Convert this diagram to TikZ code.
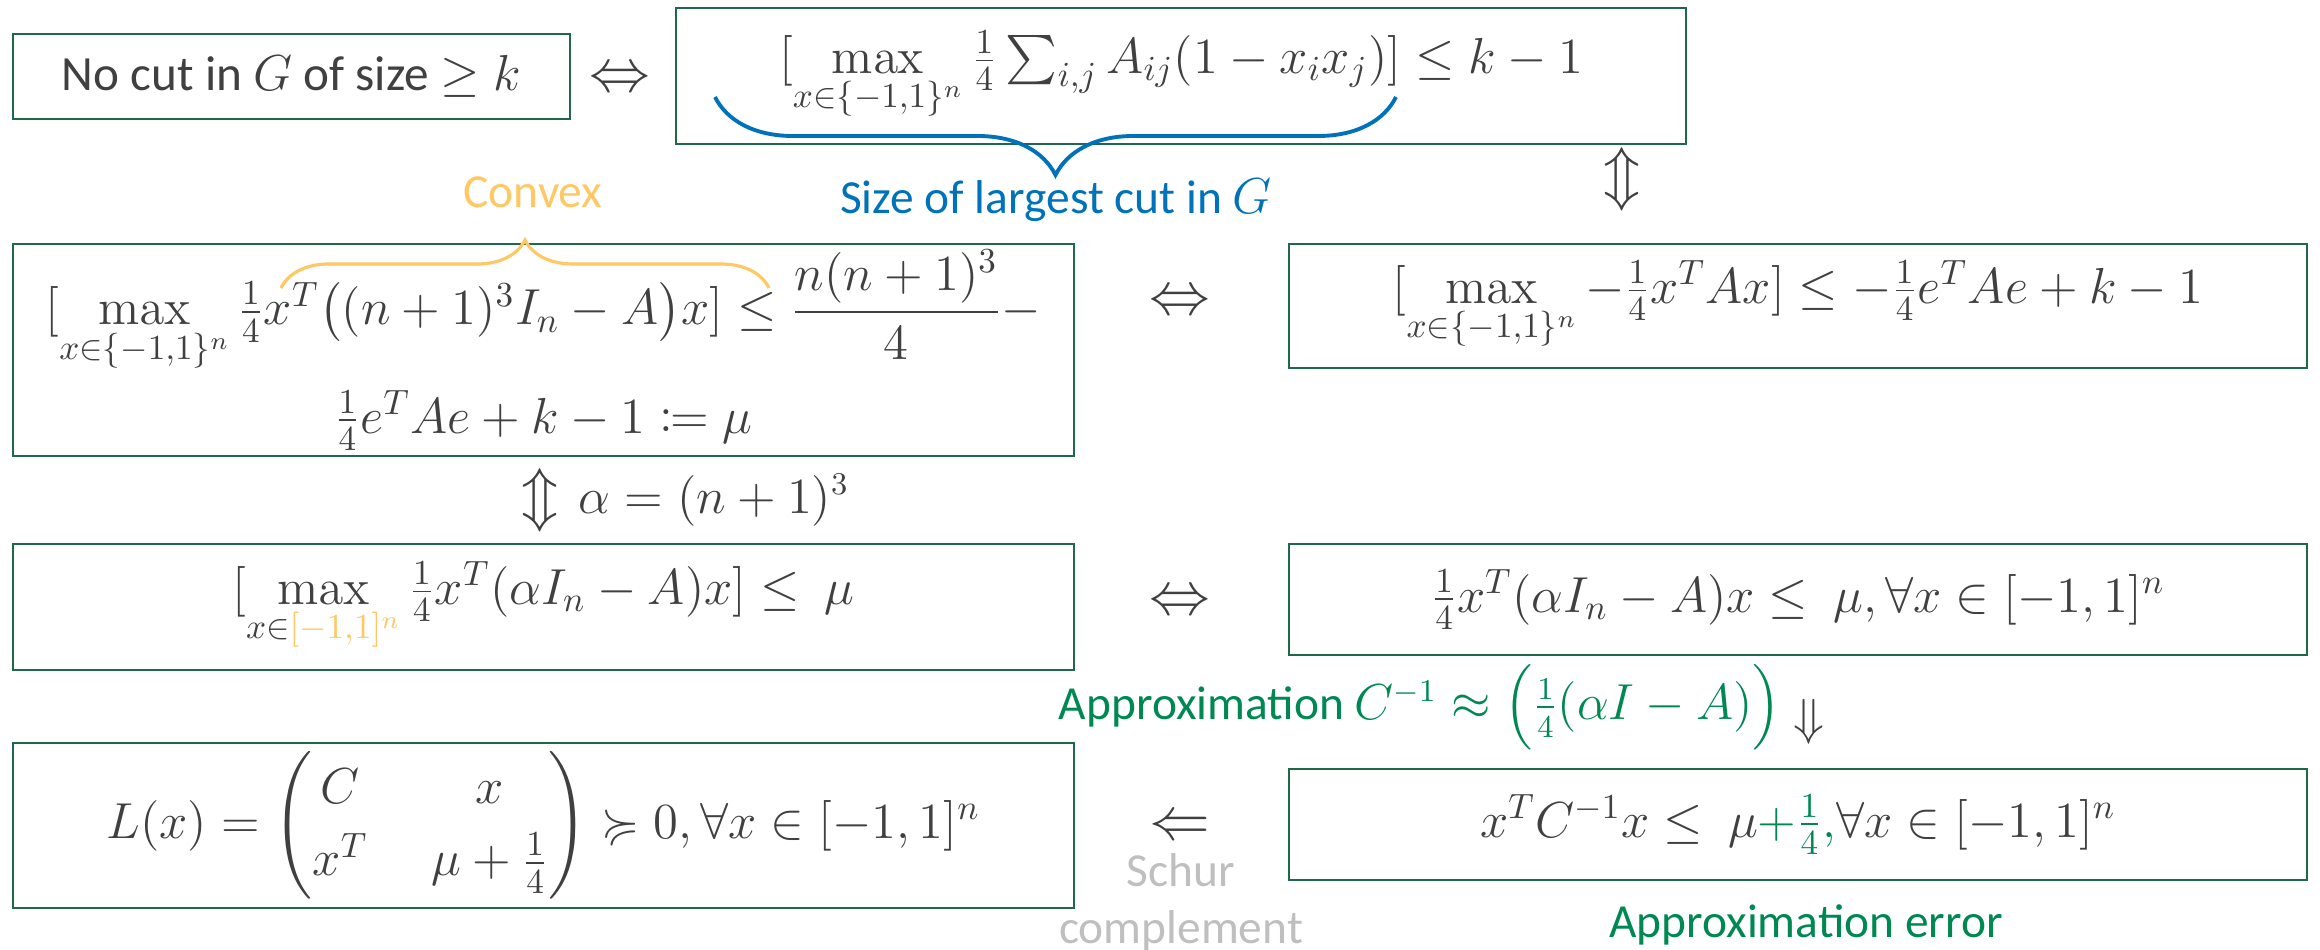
\documentclass[tikz,border=0pt]{standalone}
\usepackage{amsmath,amssymb,mathtools}
\usepackage[no-math]{fontspec}
\setmainfont{Carlito}
\usetikzlibrary{positioning,decorations.pathreplacing}
\definecolor{boxline}{RGB}{31,104,74}
\definecolor{ink}{RGB}{64,64,64}
\definecolor{cutblue}{RGB}{0,114,188}
\definecolor{convex}{RGB}{255,200,100}
\definecolor{approx}{RGB}{0,136,82}
\definecolor{note}{RGB}{191,191,191}
\tikzset{
  eq/.style={draw=boxline,line width=0.8pt,text=ink,inner sep=0pt,align=center,
    font=\fontsize{14}{17}\selectfont},
  left col/.style={eq,minimum width=10.61cm},
  right col/.style={eq,minimum width=10.18cm},
  rel/.style={text=ink,inner sep=0pt,font=\fontsize{18}{22}\selectfont},
  tag/.style={inner sep=0pt,align=center,font=\fontsize{13.5}{16.2}\selectfont},
  bracebow/.style={decorate,decoration={brace,amplitude=#1},line width=1.1pt},
}

\begin{document}
\begin{tikzpicture}
  \useasboundingbox (0,0) rectangle (23.2,-9.5);
  % top row
  \node[eq,minimum width=5.57cm,minimum height=0.85cm] (nocut) at (2.915,-0.765)
    {No cut in $G$ of size $\geq k$};
  \node[eq,minimum width=10.10cm,minimum height=1.36cm] (maxcut) at (11.81,-0.76)
    {$[\max\limits_{x\in\{-1,1\}^n}\frac{1}{4}\sum_{i,j}A_{ij}(1-x_ix_j)]\leq k-1$};
  % second row
  \node[left col,minimum height=2.12cm] (shifted) at (5.435,-3.50)
    {$[\max\limits_{x\in\{-1,1\}^n}\frac{1}{4}x^T\bigl((n+1)^3I_n-A\bigr)x]\leq\dfrac{n(n+1)^3}{4}-$\\[4pt]
     $\frac{1}{4}e^TAe+k-1\coloneqq\mu$};
  \node[right col,minimum height=1.24cm] (quad) at (17.98,-3.06)
    {$[\max\limits_{x\in\{-1,1\}^n}-\frac{1}{4}x^TAx]\leq-\frac{1}{4}e^TAe+k-1$};
  % third row
  \node[left col,minimum height=1.26cm] (relaxed) at (5.435,-6.07)
    {$[\max\limits_{x\in\textcolor{convex}{[-1,1]^n}}\frac{1}{4}x^T(\alpha I_n-A)x]\leq\ \mu$};
  \node[right col,minimum height=1.11cm] (forall) at (17.98,-5.995)
    {$\frac{1}{4}x^T(\alpha I_n-A)x\leq\ \mu,\forall x\in[-1,1]^n$};
  % bottom row
  \node[left col,minimum height=1.65cm] (lmi) at (5.435,-8.255)
    {\setlength\arraycolsep{9pt}\renewcommand\arraystretch{1.2}%
     $L(x)=\begin{pmatrix}C & x\\ x^T & \mu+\frac{1}{4}\end{pmatrix}\succcurlyeq 0,\forall x\in[-1,1]^n$};
  \node[right col,minimum height=1.11cm] (approxeq) at (17.98,-8.245)
    {$x^TC^{-1}x\leq\ \mu\textcolor{approx}{+\frac{1}{4},}\forall x\in[-1,1]^n$};

  % relations between the boxes
  \node[rel] (iff1) at (6.20,-0.80) {$\Leftrightarrow$};
  \node[rel] (iff2) at (16.22,-1.79) {$\Updownarrow$};
  \node[rel] (iff3) at (11.80,-3.03) {$\Leftrightarrow$};
  \node[rel] (iff4) at (5.40,-5.00) {$\Updownarrow$};
  \node[rel] (iff5) at (11.80,-6.03) {$\Leftrightarrow$};
  \node[rel,font=\fontsize{14}{17}\selectfont] (impl) at (18.09,-7.22) {$\Downarrow$};
  \node[rel] (conv) at (11.80,-8.28) {$\Leftarrow$};

  % notes
  \node[tag,text=ink,anchor=west] (alphadef) at (5.78,-5.00) {$\alpha=(n+1)^3$};
  \node[tag,text=approx,anchor=east] (approxnote) at (17.82,-7.07)
    {Approximation $C^{-1}\approx\Bigl(\frac{1}{4}(\alpha I-A)\Bigr)$};
  \node[tag,text=approx] (errnote) at (18.06,-9.25) {Approximation error};
  \node[tag,text=note] (schur) at (11.81,-9.02) {Schur\\complement};

  % braces
  \coordinate (cutL) at (7.15,-0.97);
  \coordinate (cutR) at (13.96,-0.97);
  \draw[bracebow=0.78cm,cutblue] (cutR) -- (cutL);
  \node[tag,text=cutblue] (cutnote) at (10.56,-2.00) {Size of largest cut in $G$};
  \coordinate (convL) at (2.81,-2.88);
  \coordinate (convR) at (7.69,-2.88);
  \draw[bracebow=0.48cm,convex,line width=0.9pt] (convL) -- (convR);
  \node[tag,text=convex] (convnote) at (5.33,-1.92) {Convex};
\end{tikzpicture}
\end{document}
